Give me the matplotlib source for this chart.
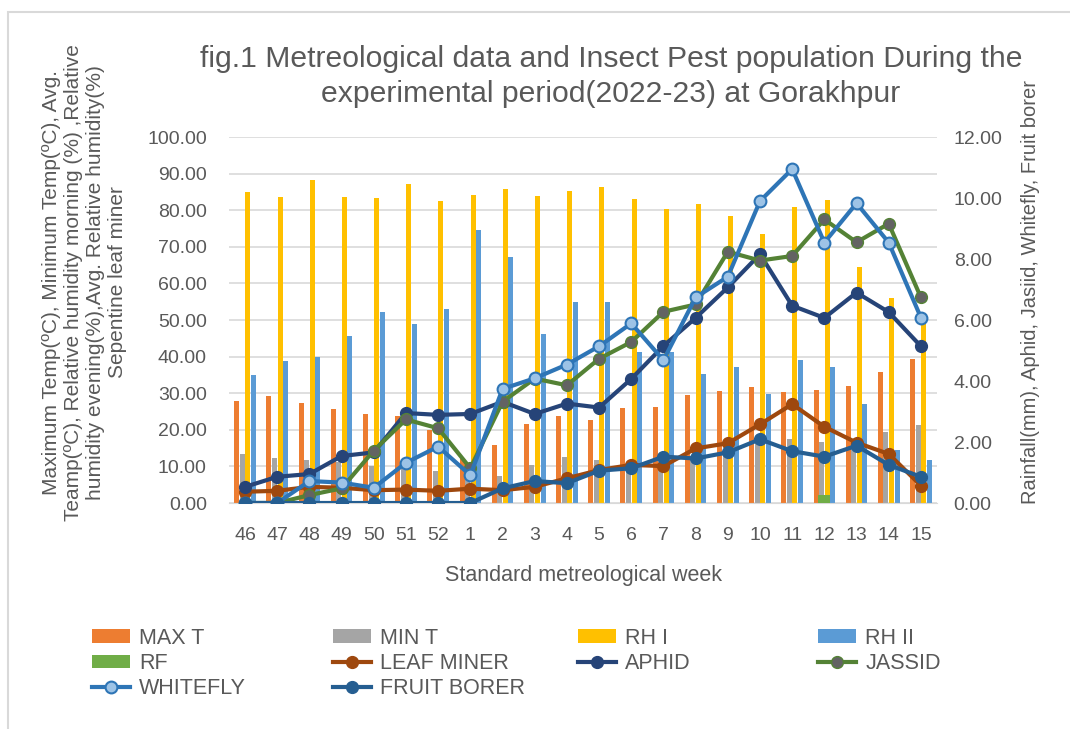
import numpy as np
import matplotlib.pyplot as plt
from matplotlib.patches import Rectangle

plt.rcParams['font.family'] = ['Liberation Sans', 'DejaVu Sans']

weeks = ["46", "47", "48", "49", "50", "51", "52", "1", "2", "3",
         "4", "5", "6", "7", "8", "9", "10", "11", "12", "13", "14", "15"]

# primary axis (temp / humidity)
max_t = [27.8, 29.3, 27.2, 25.6, 24.4, 23.8, 19.9, 12.0, 15.8, 21.7,
         23.9, 22.7, 26.0, 26.3, 29.6, 30.6, 31.7, 30.4, 30.9, 32.0, 35.9, 39.3]
min_t = [13.4, 12.2, 11.7, 11.3, 10.1, 9.5, 8.8, 7.5, 7.4, 10.5,
         12.5, 11.7, 9.9, 9.5, 12.7, 13.1, 16.3, 17.5, 16.8, 14.9, 19.5, 21.3]
rh_i = [85.1, 83.6, 88.3, 83.7, 83.4, 87.3, 82.6, 84.1, 85.7, 83.9,
        85.2, 86.3, 83.2, 80.3, 81.7, 78.4, 73.4, 80.8, 82.8, 64.6, 56.1, 50.2]
rh_ii = [34.9, 38.8, 40.0, 45.5, 52.1, 48.9, 53.0, 74.5, 67.2, 46.1,
         54.8, 55.0, 41.3, 41.2, 35.3, 37.1, 29.9, 39.1, 37.3, 27.0, 14.4, 11.7]

# secondary axis (rainfall / pests)
rf = [0, 0, 0, 0, 0, 0, 0, 0, 0, 0,
      0, 0, 0, 0, 0, 0, 0, 0, 0.26, 0, 0, 0]
leaf_miner = [0.37, 0.40, 0.53, 0.50, 0.42, 0.44, 0.40, 0.47, 0.42, 0.53,
              0.81, 1.08, 1.25, 1.21, 1.79, 1.96, 2.58, 3.24, 2.50, 1.98, 1.61, 0.57]
aphid = [0.53, 0.86, 0.95, 1.54, 1.66, 2.95, 2.89, 2.92, 3.32, 2.92,
         3.26, 3.13, 4.07, 5.15, 6.07, 7.07, 8.16, 6.47, 6.07, 6.90, 6.26, 5.14]
jassid = [0, 0, 0.26, 0.48, 1.72, 2.74, 2.45, 1.14, 3.32, 4.08,
          3.86, 4.73, 5.28, 6.27, 6.51, 8.24, 7.95, 8.10, 9.30, 8.55, 9.16, 6.74]
whitefly = [0, 0, 0.72, 0.67, 0.50, 1.32, 1.85, 0.91, 3.74, 4.09,
            4.54, 5.14, 5.89, 4.68, 6.74, 7.42, 9.90, 10.95, 8.54, 9.83, 8.54, 6.08]
fruit_borer = [0, 0, 0, 0, 0, 0, 0, 0, 0.48, 0.72,
               0.65, 1.06, 1.14, 1.52, 1.46, 1.66, 2.09, 1.70, 1.52, 1.88, 1.25, 0.86]

txt = "#595959"
grid = "#D9D9D9"

fig = plt.figure(figsize=(10.7, 7.29), dpi=100)
fig.add_artist(Rectangle((8 / 1070, -0.1), 1.2, 1.1 - 12 / 729,
                         transform=fig.transFigure, fill=False,
                         edgecolor=grid, lw=1.5))

ax = fig.add_axes([0.214, 0.310, 0.6617, 0.502])
ax2 = ax.twinx()

x = np.arange(len(weeks))
w = 0.172
b1 = ax.bar(x - 1.5 * w, max_t, w * 0.9, color="#ED7D31", label="MAX T")
b2 = ax.bar(x - 0.5 * w, min_t, w * 0.9, color="#A5A5A5", label="MIN T")
b3 = ax.bar(x + 0.5 * w, rh_i, w * 0.9, color="#FFC000", label="RH I")
b4 = ax.bar(x + 1.5 * w, rh_ii, w * 0.9, color="#5B9BD5", label="RH II")

b5 = ax2.bar(x, rf, 0.37, color="#70AD47", label="RF")
lw, ms = 3.0, 8.5
l1, = ax2.plot(x, leaf_miner, color="#9E480E", lw=lw, marker="o", ms=ms,
               mfc="#9E480E", mec="#9E480E", label="LEAF MINER")
l2, = ax2.plot(x, aphid, color="#264478", lw=lw, marker="o", ms=ms,
               mfc="#264478", mec="#264478", label="APHID")
l3, = ax2.plot(x, jassid, color="#548235", lw=lw, marker="o", ms=ms,
               mfc="#636363", mec="#548235", label="JASSID")
l4, = ax2.plot(x, whitefly, color="#2E75B6", lw=lw, marker="o", ms=ms,
               mfc="#9DC3E6", mec="#2E75B6", mew=1.5, label="WHITEFLY")
l5, = ax2.plot(x, fruit_borer, color="#255E91", lw=lw, marker="o", ms=ms,
               mfc="#255E91", mec="#255E91", label="FRUIT BORER")

ax.set_xlim(-0.5, len(weeks) - 0.5)
ax.set_ylim(0, 100)
ax.set_yticks(np.arange(0, 101, 10))
ax.set_yticklabels([f"{v:.2f}" for v in np.arange(0, 101, 10)])
ax2.set_ylim(0, 12)
ax2.set_yticks(np.arange(0, 13, 2))
ax2.set_yticklabels([f"{v:.2f}" for v in np.arange(0, 13, 2)])
ax.set_xticks(x)
ax.set_xticklabels(weeks)

ax.grid(axis="y", color=grid, lw=1.2)
ax.set_axisbelow(True)
for a in (ax, ax2):
    for s in a.spines.values():
        s.set_visible(False)
    a.tick_params(length=0, labelsize=14, colors=txt)
ax.spines["bottom"].set_visible(True)
ax.spines["bottom"].set_color(grid)
ax.tick_params(axis="x", pad=17)
ax.tick_params(axis="y", pad=16)
ax2.tick_params(axis="y", pad=12)

fig.text(0.571, 0.895,
         "fig.1 Metreological data and Insect Pest population During the\n"
         "experimental period(2022-23) at Gorakhpur",
         ha="center", va="center", fontsize=21.7, color=txt, linespacing=1.3)
fig.text(0.079, 0.613,
         "Maximum Temp(ºC), Minimum Temp(ºC), Avg.\n"
         "Teamp(ºC), Relative humidity morning (%) ,Relative\n"
         "humidity evening(%),Avg. Relative humidity(%)\n"
         "Sepentine leaf miner",
         rotation=90, ha="center", va="center", fontsize=15, color=txt,
         linespacing=1.18)
fig.text(0.963, 0.600, "Rainfall(mm), Aphid, Jasiid, Whitefly, Fruit borer",
         rotation=90, ha="center", va="center", fontsize=14.5, color=txt)
fig.text(0.545, 0.211, "Standard metreological week",
         ha="center", va="center", fontsize=15.5, color=txt)

# legend: four columns at fixed positions, filled row by row
columns = [[b1, b5, l4], [b2, l1, l5], [b3, l2], [b4, l3]]
col_x = [92, 333, 578, 818]
for hs, cx in zip(columns, col_x):
    fig.legend(handles=hs, labels=[h.get_label() for h in hs],
               ncols=1, loc="upper left",
               bbox_to_anchor=(cx / 1070, 0.139), frameon=False,
               fontsize=15.5, labelcolor=txt, handlelength=1.75,
               handleheight=0.6, handletextpad=0.45, labelspacing=0.2,
               borderaxespad=0, borderpad=0)

fig.savefig("out.png", dpi=100)
